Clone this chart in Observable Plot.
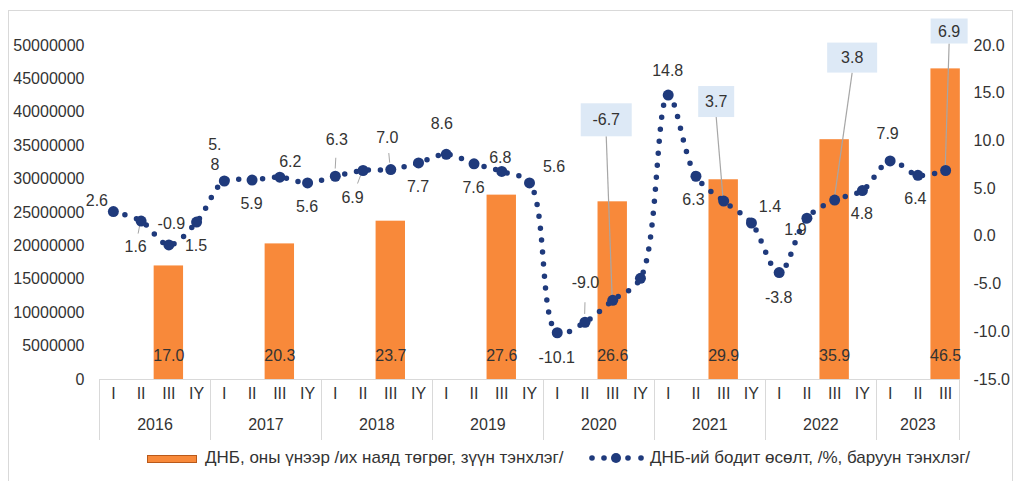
<!DOCTYPE html>
<html>
<head>
<meta charset="utf-8">
<script src="https://cdn.jsdelivr.net/npm/d3@7"></script>
<script src="https://cdn.jsdelivr.net/npm/@observablehq/plot@0.6"></script>
<style>
  body { margin: 0; background: #fff; font-family: "Liberation Sans", Arial, sans-serif; }
  #wrap { position: relative; width: 1015px; height: 481px; overflow: hidden; background: #fff; }
  #frame { position: absolute; left: 8px; top: 10px; width: 1005px; height: 490px; border: 1px solid #d9d9d9; box-sizing: border-box; }
  .layer { position: absolute; left: 0; top: 0; }
  .layer svg { background: transparent !important; }
  .lg { position: absolute; top: 448px; height: 20px; line-height: 20px; font-size: 17px; color: #333; white-space: nowrap; }
  #sw1 { position: absolute; left: 147px; top: 455px; width: 50px; height: 8px; background: #f8893a; border: 1px solid #b9591a; box-sizing: border-box; }
  #sw2 { position: absolute; left: 584px; top: 450px; }
</style>
</head>
<body>
<div id="wrap">
  <div id="frame"></div>
  <div id="bars" class="layer"></div>
  <div id="line" class="layer"></div>
  <div id="sw1"></div>
  <div class="lg" style="left:205px">ДНБ, оны үнээр /их наяд төгрөг, зүүн тэнхлэг/</div>
  <svg id="sw2" width="64" height="16"></svg>
  <div class="lg" style="left:650px">ДНБ-ий бодит өсөлт, /%, баруун тэнхлэг/</div>
</div>
<script>
// ---------------- data ----------------
const years = ["2016", "2017", "2018", "2019", "2020", "2021", "2022", "2023"];
const quarterNames = ["I", "II", "III", "IY"];
const quarterCount = [4, 4, 4, 4, 4, 4, 4, 3];
// real GDP growth, % (right axis), one per quarter 2016 I .. 2023 III
const growth = [
  2.6, 1.6, -0.9, 1.5,
  5.8, 5.9, 6.2, 5.6,
  6.3, 6.9, 7.0, 7.7,
  8.6, 7.6, 6.8, 5.6,
  -10.1, -9.0, -6.7, -4.4,
  14.8, 6.3, 3.7, 1.4,
  -3.8, 1.9, 3.8, 4.8,
  7.9, 6.4, 6.9
];
// GDP at current prices, trillion MNT (left axis in million MNT), shown at quarter III
const gdpValues = [17.0, 20.3, 23.7, 27.6, 26.6, 29.9, 35.9, 46.5];
const leftTicks = [0, 5000000, 10000000, 15000000, 20000000, 25000000, 30000000, 35000000, 40000000, 45000000, 50000000];
const rightTicks = [-15, -10, -5, 0, 5, 10, 15, 20];

// ---------------- layout (label placement, pixels) ----------------
const labelLayout = [
  [-16, -11], [-5, 26], [3, -21], [0, 24],
  [-9, -26], [0, 24], [11, -15], [0, 24],
  [2, -36], [-10, 27], [-3, -32], [0, 24],
  [-4, -30], [0, 24], [-1, -14], [25, -16],
  [0, 25], [1, -39], [-6, -180], null,
  [0, -24], [-2, 24], [-7, -99], [19, -16],
  [0, 25], [-11, 12], [18, -142], [0, 23],
  [-2, -27], [-2, 24], [4, -139]
];
const calloutBoxes = { 18: [51, 33], 22: [36, 31], 26: [50, 30], 30: [37, 25] };
const leaderLabels = [1, 8, 9, 10, 17];
const wrapLabels = { 4: ["5.", "8"] };

// ---------------- derived tables ----------------
const quarters = [];
years.forEach((y, k) => {
  for (let q = 0; q < quarterCount[k]; q++) quarters.push({ i: quarters.length, year: y, q: quarterNames[q] });
});
const growthData = growth.map((v, i) => ({ i, v }));
const bars = gdpValues.map((v, k) => ({ i: quarters.find(d => d.year === years[k] && d.q === "III").i, v }));
const yearInfo = years.map(y => {
  const idx = quarters.filter(d => d.year === y).map(d => d.i);
  return { year: y, mid: d3.mean(idx), start: d3.min(idx) - 0.5, end: d3.max(idx) + 0.5 };
});
const separators = Array.from(new Set(yearInfo.flatMap(d => [d.start, d.end])));

const W = 1015, H = 445, ML = 99, MR = 56, MT = 45, MB = 66;
const navy = "#1f3a7c", orange = "#f8893a", textColor = "#333";
const fmt = v => v.toFixed(1);
const common = {
  width: W, height: H, marginLeft: ML, marginRight: MR, marginTop: MT, marginBottom: MB,
  style: { fontFamily: "'Liberation Sans', Arial, sans-serif", fontSize: "16px", color: textColor, background: "transparent", overflow: "visible" },
  x: { type: "linear", domain: [-0.5, quarters.length - 0.5], axis: null }
};

// ---------------- bar layer (left axis, x axis) ----------------
const barPlot = Plot.plot({
  ...common,
  y: { domain: [0, 50000000], axis: null },
  marks: [
    Plot.rect(bars, { x1: d => d.i - 0.53, x2: d => d.i + 0.53, y1: 0, y2: d => d.v * 1e6, fill: orange }),
    Plot.ruleY([0], { stroke: "#d9d9d9", strokeWidth: 1 }),
    (index, scales, values, dims) => {
      const g = d3.create("svg:g").attr("stroke", "#d9d9d9");
      const y0 = dims.height - dims.marginBottom;
      separators.forEach(s => {
        const x = Math.round(scales.x(s)) + 0.5;
        g.append("line").attr("x1", x).attr("x2", x).attr("y1", y0).attr("y2", y0 + 61);
      });
      return g.node();
    },
    Plot.text(bars, { x: "i", frameAnchor: "bottom", dy: -19, text: d => fmt(d.v), fill: textColor, fontSize: 16 }),
    Plot.text(quarters, { x: "i", frameAnchor: "bottom", dy: 19, text: "q", fill: textColor, fontSize: 16 }),
    Plot.text(yearInfo, { x: "mid", frameAnchor: "bottom", dy: 50, text: "year", fill: textColor, fontSize: 16 }),
    Plot.axisY(leftTicks, { anchor: "left", tickSize: 0, tickPadding: 15, tickFormat: d => String(d), label: null, fontSize: 16 })
  ]
});
document.getElementById("bars").appendChild(barPlot);

// ---------------- line layer (right axis) ----------------
const linePlot = Plot.plot({
  ...common,
  y: { domain: [-15, 20], axis: null },
  marks: [
    (index, scales) => {
      const g = d3.create("svg:g");
      growth.forEach((v, i) => {
        const L = labelLayout[i];
        if (!L || !calloutBoxes[i]) return;
        const [w, h] = calloutBoxes[i];
        const px = scales.x(i), py = scales.y(v), cx = px + L[0], cy = py + L[1];
        g.append("line").attr("x1", px).attr("y1", py).attr("x2", cx).attr("y2", cy + h / 2)
          .attr("stroke", "#a6a6a6").attr("stroke-width", 1.2);
        g.append("rect").attr("x", cx - w / 2).attr("y", cy - h / 2).attr("width", w).attr("height", h).attr("fill", "#dde9f6");
      });
      leaderLabels.forEach(i => {
        const L = labelLayout[i];
        const px = scales.x(i), py = scales.y(growth[i]);
        g.append("line").attr("x1", px + 0.2 * L[0]).attr("y1", py + 0.2 * L[1])
          .attr("x2", px + 0.5 * L[0]).attr("y2", py + 0.5 * L[1])
          .attr("stroke", "#a6a6a6").attr("stroke-width", 1);
      });
      return g.node();
    },
    Plot.line(growthData, { x: "i", y: "v", curve: "catmull-rom", stroke: navy, strokeWidth: 5.5, strokeDasharray: "0 12", strokeLinecap: "round" }),
    Plot.dot(growthData, { x: "i", y: "v", r: 5.5, fill: navy }),
    (index, scales) => {
      const g = d3.create("svg:g").attr("fill", textColor).attr("font-size", 16).attr("text-anchor", "middle");
      growth.forEach((v, i) => {
        const L = labelLayout[i];
        if (!L) return;
        const cx = scales.x(i) + L[0], cy = scales.y(v) + L[1];
        const lines = wrapLabels[i] || [fmt(v)];
        lines.forEach((t, k) => {
          g.append("text").attr("x", cx).attr("y", cy + (k - (lines.length - 1) / 2) * 20)
            .attr("dy", "0.35em").text(t);
        });
      });
      return g.node();
    },
    Plot.axisY(rightTicks, { anchor: "right", tickSize: 0, tickPadding: 14, tickFormat: d => d.toFixed(1), label: null, fontSize: 16 })
  ]
});
document.getElementById("line").appendChild(linePlot);

// ---------------- legend symbol for the line ----------------
const sw = d3.select("#sw2");
[8, 20, 32, 44, 57].forEach((x, k) => {
  sw.append("circle").attr("cx", x).attr("cy", 8).attr("r", k === 2 ? 5 : 2.8).attr("fill", navy);
});
</script>
</body>
</html>
